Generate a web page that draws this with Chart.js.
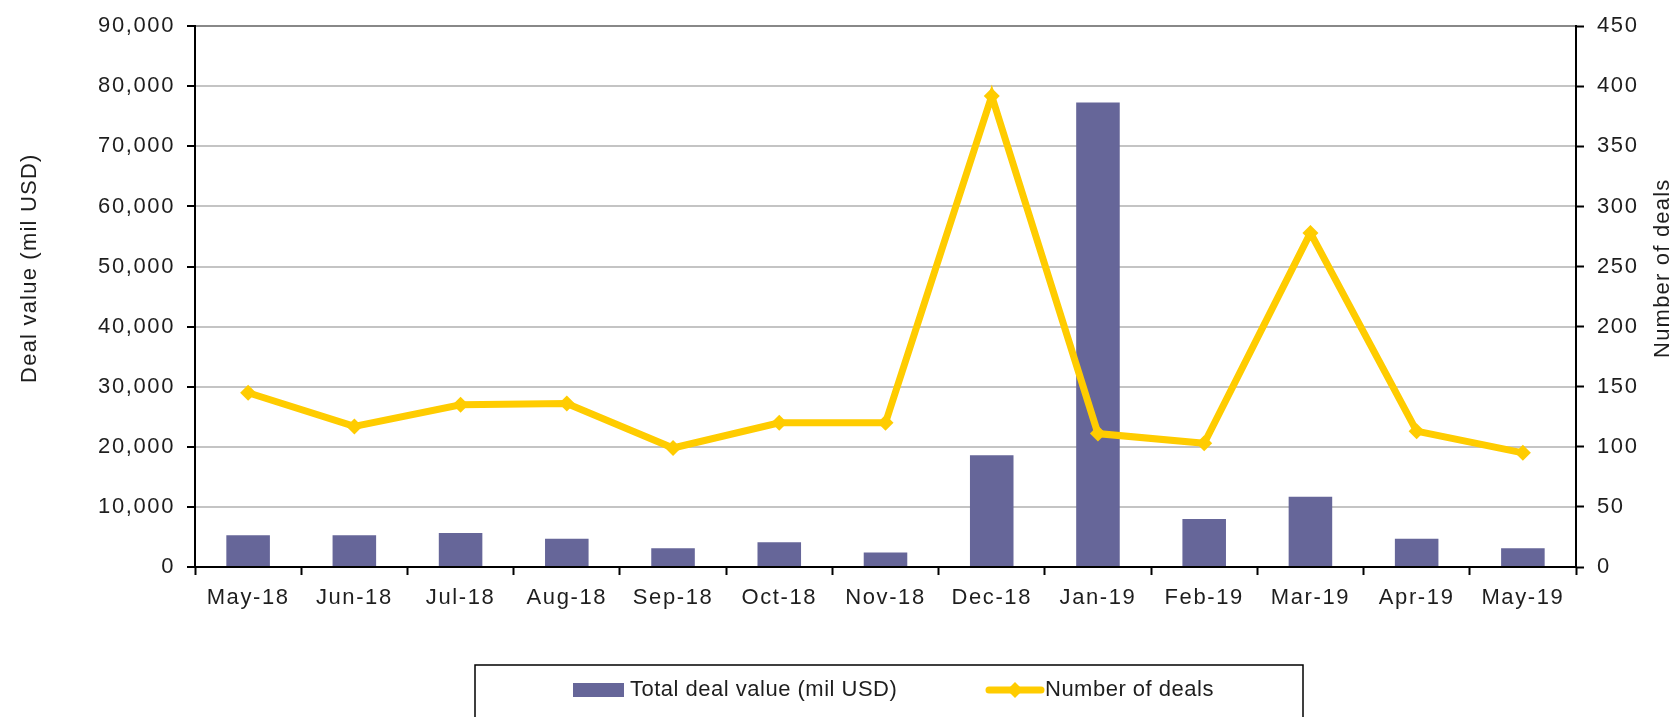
<!DOCTYPE html>
<html>
<head>
<meta charset="utf-8">
<script src="https://cdn.jsdelivr.net/npm/chart.js@4"></script>
<style>
    html, body { margin: 0; padding: 0; background: #fff; }
    canvas { display: block; }
</style>
</head>
<body>
<canvas id="deals-chart" width="1675" height="717"></canvas>
<script>(function() { "use strict";

    var months = ['May-18', 'Jun-18', 'Jul-18', 'Aug-18', 'Sep-18', 'Oct-18', 'Nov-18',
                  'Dec-18', 'Jan-19', 'Feb-19', 'Mar-19', 'Apr-19', 'May-19'];
    var deal_value = [5300, 5300, 5650, 4700, 3100, 4100, 2400, 18600, 77300, 8000, 11700, 4700, 3100];
    var deal_count = [145, 117, 135, 136, 99, 120, 120, 392, 111, 103, 278, 113, 95];

    var bar_color = '#666699',
        line_color = '#FFCC00',
        text_color = '#1e1e1e',
        font_family = '"Liberation Sans", Arial, Helvetica, sans-serif';

    Chart.defaults.font.family = font_family;
    Chart.defaults.font.size = 22;
    Chart.defaults.color = text_color;

    // axis titles + boxed legend, Excel style
    var extras = {
        id: 'extras',
        beforeDraw: function(chart) {
            // the source font is set wider than Helvetica
            chart.ctx.letterSpacing = '1.6px';
        },
        afterDraw: function(chart) {
            var ctx = chart.ctx,
                area = chart.chartArea;
            ctx.save();
            ctx.font = '22px ' + font_family;
            ctx.fillStyle = text_color;
            ctx.textAlign = 'center';
            ctx.textBaseline = 'middle';
            ctx.letterSpacing = '1.2px';

            ctx.save();
            ctx.translate(30, area.top + 242);
            ctx.rotate(-Math.PI / 2);
            ctx.fillText('Deal value (mil USD)', 0, 0);
            ctx.restore();

            ctx.save();
            ctx.translate(chart.width - 12, area.top + 242);
            ctx.rotate(-Math.PI / 2);
            ctx.fillText('Number of deals', 0, 0);
            ctx.restore();

            // legend box
            var lx = area.left + 280, ly = area.bottom + 98, lw = 828;
            ctx.strokeStyle = '#000';
            ctx.lineWidth = 1.5;
            ctx.strokeRect(lx, ly, lw, 80);

            var cy = ly + 25;
            ctx.letterSpacing = '0.5px';
            ctx.textAlign = 'left';
            ctx.fillStyle = bar_color;
            ctx.fillRect(lx + 98, cy - 7, 51, 14);
            ctx.fillStyle = text_color;
            ctx.fillText('Total deal value (mil USD)', lx + 155, cy);

            ctx.strokeStyle = line_color;
            ctx.lineWidth = 7;
            ctx.lineCap = 'round';
            ctx.beginPath();
            ctx.moveTo(lx + 514, cy);
            ctx.lineTo(lx + 566, cy);
            ctx.stroke();
            ctx.fillStyle = line_color;
            ctx.beginPath();
            ctx.moveTo(lx + 540, cy - 8);
            ctx.lineTo(lx + 548, cy);
            ctx.lineTo(lx + 540, cy + 8);
            ctx.lineTo(lx + 532, cy);
            ctx.closePath();
            ctx.fill();
            ctx.fillStyle = text_color;
            ctx.fillText('Number of deals', lx + 570, cy);
            ctx.restore();
        }
    };

    new Chart(document.getElementById('deals-chart'), {
        data: {
            labels: months,
            datasets: [
                {
                    type: 'line',
                    label: 'Number of deals',
                    data: deal_count,
                    yAxisID: 'y1',
                    order: 0,
                    borderColor: line_color,
                    backgroundColor: line_color,
                    borderWidth: 7,
                    tension: 0,
                    pointStyle: 'rectRot',
                    pointRadius: 8,
                    pointBorderWidth: 0,
                    pointBackgroundColor: line_color
                },
                {
                    type: 'bar',
                    label: 'Total deal value (mil USD)',
                    data: deal_value,
                    yAxisID: 'y',
                    order: 1,
                    backgroundColor: bar_color,
                    categoryPercentage: 1,
                    barPercentage: 0.41
                }
            ]
        },
        options: {
            responsive: false,
            animation: false,
            layout: { padding: { top: 26, left: 0, right: 0, bottom: 0 } },
            plugins: {
                legend: { display: false },
                tooltip: { enabled: false }
            },
            scales: {
                x: {
                    offset: true,
                    grid: {
                        offset: true,
                        drawOnChartArea: false,
                        drawTicks: true,
                        tickLength: 8,
                        tickColor: '#000',
                        tickWidth: 2
                    },
                    border: { color: '#000', width: 2 },
                    ticks: { padding: 10, maxRotation: 0, autoSkip: false, font: { size: 22 } },
                    afterFit: function(scale) { scale.height = 150; }
                },
                y: {
                    position: 'left',
                    min: 0,
                    max: 90000,
                    ticks: { stepSize: 10000, padding: 12 },
                    grid: {
                        color: function(c) { return c.tick && c.tick.value === 90000 ? '#888' : '#c4c4c4'; },
                        lineWidth: 2,
                        tickLength: 8,
                        tickColor: '#000',
                        tickWidth: 2
                    },
                    border: { color: '#000', width: 2 },
                    afterFit: function(scale) { scale.width = 195; }
                },
                y1: {
                    position: 'right',
                    min: 0,
                    max: 450,
                    ticks: { stepSize: 50, padding: 13 },
                    grid: {
                        drawOnChartArea: false,
                        tickLength: 8,
                        tickColor: '#000',
                        tickWidth: 2
                    },
                    border: { color: '#000', width: 2 },
                    afterFit: function(scale) { scale.width = 99; }
                }
            }
        },
        plugins: [extras]
    });

})();</script>
</body>
</html>
